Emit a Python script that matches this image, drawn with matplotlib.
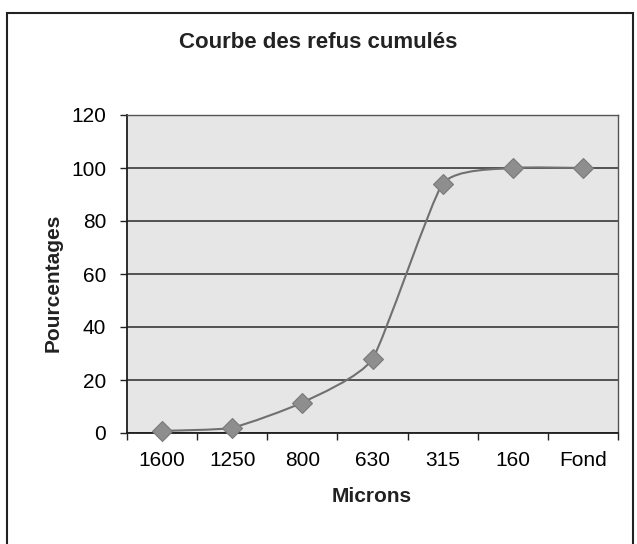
import numpy as np
import matplotlib
matplotlib.use('Agg')
import matplotlib.pyplot as plt
from matplotlib.path import Path
from matplotlib.patches import PathPatch, Rectangle

# données
categories = ['1600', '1250', '800', '630', '315', '160', 'Fond']
refus_cumules = [0.8, 2, 11.5, 28, 94, 100, 100]
y_ticks = [0, 20, 40, 60, 80, 100, 120]

plt.rcParams['font.family'] = ['Liberation Sans', 'DejaVu Sans']

fig = plt.figure(figsize=(6.37, 5.44), dpi=100)
fig.patch.set_facecolor('white')

# cadre extérieur du graphique (ouvert en bas, comme le scan)
fig.add_artist(Rectangle((7 / 637, -0.05), 626 / 637, 1.05 - 13 / 544,
                         transform=fig.transFigure, fill=False,
                         edgecolor='#222222', linewidth=1.5))

ax = fig.add_axes([127 / 637, 111 / 544, 491 / 637, 318 / 544])
ax.set_facecolor('#e6e6e6')

x = np.arange(len(categories))
y = np.array(refus_cumules, dtype=float)

# courbe légèrement lissée (bezier)
k = 12
verts = [(x[0], y[0])]
codes = [Path.MOVETO]
n = len(x)
for i in range(n - 1):
    p0 = np.array([x[max(i - 1, 0)], y[max(i - 1, 0)]])
    p1 = np.array([x[i], y[i]])
    p2 = np.array([x[i + 1], y[i + 1]])
    p3 = np.array([x[min(i + 2, n - 1)], y[min(i + 2, n - 1)]])
    c1 = p1 + (p2 - p0) / k
    c2 = p2 - (p3 - p1) / k
    verts += [tuple(c1), tuple(c2), tuple(p2)]
    codes += [Path.CURVE4] * 3
ax.add_patch(PathPatch(Path(verts, codes), fill=False, edgecolor='#707070',
                       linewidth=1.5, zorder=3))

ax.plot(x, y, linestyle='none', marker='D', markersize=10,
        markerfacecolor='#8e8e8e', markeredgecolor='#7a7a7a',
        markeredgewidth=0.8, zorder=4, clip_on=False)

ax.set_xlim(-0.5, n - 0.5)
ax.set_ylim(0, 120)
ax.set_yticks(y_ticks)
ax.set_xticks(x)
ax.set_xticklabels(categories)
ax.set_xticks(np.arange(-0.5, n, 1), minor=True)
ax.tick_params(axis='x', which='major', length=0, labelsize=15, pad=13)
ax.tick_params(axis='x', which='minor', length=5, width=1, direction='out', color='#222222')
ax.tick_params(axis='y', length=5, width=1, direction='out', labelsize=15, pad=10,
               color='#222222')

ax.grid(axis='y', color='#2a2a2a', linewidth=1.1)
ax.set_axisbelow(True)
for side in ['left', 'bottom']:
    ax.spines[side].set_color('#1e1e1e')
    ax.spines[side].set_linewidth(1.3)
for side in ['top', 'right']:
    ax.spines[side].set_color('#555555')
    ax.spines[side].set_linewidth(1.0)

fig.text(0.5, 1 - 42 / 544, 'Courbe des refus cumulés', ha='center', va='center',
         fontsize=16, fontweight='bold', color='#222222')
fig.text(372 / 637, 1 - 497 / 544, 'Microns', ha='center', va='center',
         fontsize=15, fontweight='bold', color='#222222')
fig.text(53 / 637, 1 - 283 / 544, 'Pourcentages', ha='center', va='center',
         rotation=90, fontsize=15, fontweight='bold', color='#222222')

fig.savefig('out.png', dpi=100)
